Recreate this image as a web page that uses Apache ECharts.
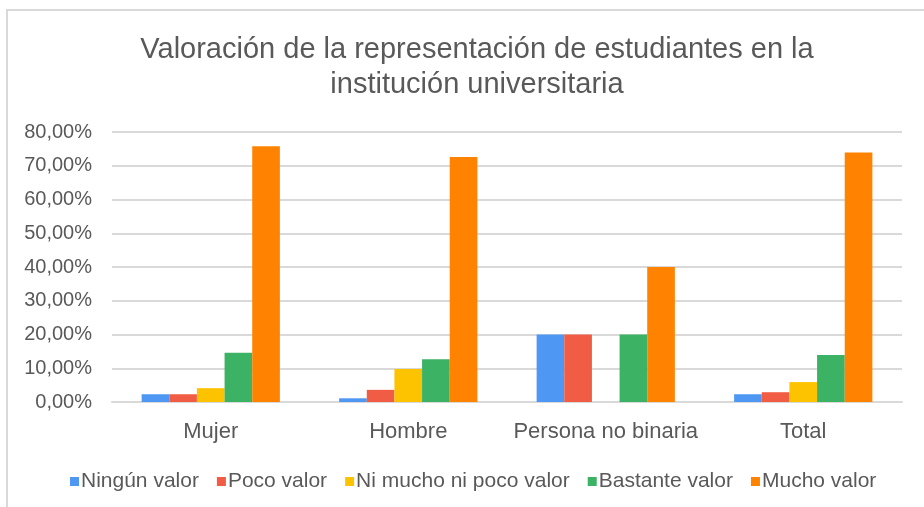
<!DOCTYPE html>
<html><head><meta charset="utf-8">
<script src="https://cdn.jsdelivr.net/npm/echarts@6/dist/echarts.min.js"></script>
<style>html,body{margin:0;padding:0;background:#fff}#c{width:924px;height:507px}</style>
</head><body><div id="c"></div>
<script>
const categories = ["Mujer", "Hombre", "Persona no binaria", "Total"];
const seriesNames = ["Ningún valor", "Poco valor", "Ni mucho ni poco valor", "Bastante valor", "Mucho valor"];
const ningun = [2.3, 1.1, 20.0, 2.3];
const poco = [2.3, 3.6, 20.0, 2.9];
const niMuchoNiPoco = [4.1, 9.8, 0, 5.9];
const bastante = [14.6, 12.7, 20.0, 13.9];
const mucho = [75.8, 72.6, 40.0, 73.9];
const colors = ["#4e97f3", "#f15c44", "#fec300", "#3cb264", "#ff8300"];
const values = [ningun, poco, niMuchoNiPoco, bastante, mucho];
const textColor = "#595959";
const font = "Liberation Sans";

const chart = echarts.init(document.getElementById('c'), null, {renderer: 'canvas'});
chart.setOption({
  animation: false,
  backgroundColor: '#fff',
  textStyle: {fontFamily: font},
  graphic: [{type: 'rect', shape: {x: 7, y: 10, width: 940, height: 520},
    style: {fill: 'none', stroke: '#d9d9d9', lineWidth: 2}, silent: true}],
  title: {
    text: 'Valoración de la representación de estudiantes en la\ninstitución universitaria',
    left: 472, top: 27, textAlign: 'center',
    textStyle: {fontFamily: font, fontSize: 29, fontWeight: 'normal', color: textColor, lineHeight: 35}
  },
  legend: {
    top: 466, left: 65,
    itemWidth: 9, itemHeight: 9, itemGap: 18,
    icon: 'rect',
    textStyle: {fontFamily: font, fontSize: 21, color: textColor, padding: [0, 0, 0, -3]},
    data: seriesNames
  },
  grid: {left: 112, right: 22, top: 132, bottom: 105, containLabel: false},
  xAxis: {
    type: 'category', data: categories,
    axisLine: {lineStyle: {color: '#d9d9d9', width: 2}},
    axisTick: {show: false},
    axisLabel: {fontFamily: font, fontSize: 22, color: textColor, margin: 19, interval: 0}
  },
  yAxis: {
    type: 'value', min: 0, max: 80, interval: 10,
    axisLine: {show: false}, axisTick: {show: false},
    splitLine: {lineStyle: {color: '#d9d9d9', width: 2}},
    axisLabel: {fontFamily: font, fontSize: 20, color: textColor, margin: 20,
      formatter: v => v.toFixed(2).replace('.', ',') + '%'}
  },
  series: seriesNames.map((n, i) => ({
    name: n, type: 'bar', data: values[i],
    barGap: '0%', barCategoryGap: '30%',
    itemStyle: {color: colors[i]}
  }))
});
</script></body></html>
